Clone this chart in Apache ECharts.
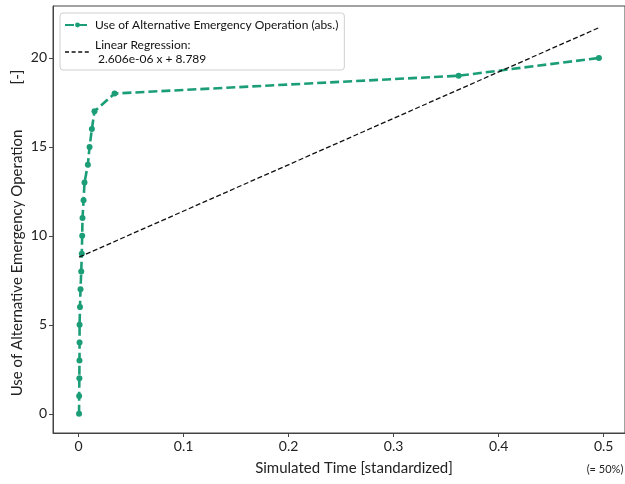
<!DOCTYPE html>
<html>
<head>
<meta charset="utf-8">
<script src="https://cdn.jsdelivr.net/npm/echarts@6/dist/echarts.min.js"></script>
<style>
  html, body { margin: 0; padding: 0; background: #fff; }
  #chart { width: 625px; height: 484px; }
</style>
</head>
<body>
<div id="chart"></div>
<script>
// Cumulative use of the alternative emergency operation over standardized simulated time
const timeStd = [0.0005, 0.0006, 0.0008, 0.0009, 0.0010, 0.0010, 0.0014, 0.0019, 0.0026, 0.0031,
                 0.0035, 0.0038, 0.0048, 0.0057, 0.0089, 0.0105, 0.0127, 0.0152, 0.0343, 0.3619, 0.4955];
const useCount = [0, 1, 2, 3, 4, 5, 6, 7, 8, 9, 10, 11, 12, 13, 14, 15, 16, 17, 18, 19, 20];

// Regression fitted on raw time (seconds); one standardized unit = 1e7 s
const regSlope = 2.606e-06;
const regIntercept = 8.789;
const timeScale = 1e7;

const xTicks = [0, 0.1, 0.2, 0.3, 0.4, 0.5];
const yTicks = [0, 5, 10, 15, 20];

const seriesName = 'Use of Alternative Emergency Operation (abs.)';
const regName = 'Linear Regression:\n 2.606e-06 x + 8.789';

const green = '#1b9e77';
const font = 'Lato, "Open Sans", sans-serif';

const obs = timeStd.map((t, i) => [t, useCount[i]]);
const tMin = Math.min(...timeStd), tMax = Math.max(...timeStd);
const regLine = [tMin, tMax].map(t => [t, regSlope * t * timeScale + regIntercept]);

const chart = echarts.init(document.getElementById('chart'), null, { renderer: 'canvas' });
chart.setOption({
  animation: false,
  backgroundColor: '#fff',
  grid: {
    left: 53, right: 0, top: 6, bottom: 51,
    show: true, borderColor: '#444', borderWidth: 1
  },
  legend: {
    orient: 'vertical',
    left: 60, top: 13,
    padding: [5, 6, 4, 4],
    itemGap: 6,
    itemWidth: 25,
    itemHeight: 6,
    backgroundColor: '#fff',
    borderColor: '#d0d0d0',
    borderWidth: 1,
    borderRadius: 3,
    textStyle: { fontFamily: font, fontSize: 12, color: '#111', lineHeight: 14 },
    data: [
      { name: seriesName },
      { name: regName, itemStyle: { opacity: 0 },
        lineStyle: { color: '#111', width: 1.3, type: [4, 2.6] } }
    ]
  },
  xAxis: {
    type: 'value',
    min: -0.0243, max: 0.5203,
    splitLine: { show: false },
    axisLine: { show: true, onZero: false, lineStyle: { color: '#444' } },
    axisTick: { show: true, length: 4, customValues: xTicks, lineStyle: { color: '#444' } },
    axisLabel: { customValues: xTicks, margin: 6, fontFamily: font, fontSize: 14, color: '#222',
                 formatter: v => String(v) }
  },
  yAxis: {
    type: 'value',
    min: -1.08, max: 22.92,
    splitLine: { show: false },
    axisLine: { show: true, onZero: false, lineStyle: { color: '#444' } },
    axisTick: { show: true, length: 4, customValues: yTicks, lineStyle: { color: '#444' } },
    axisLabel: { customValues: yTicks, margin: 6, fontFamily: font, fontSize: 14, color: '#222' }
  },
  series: [
    {
      name: seriesName,
      type: 'line',
      data: obs,
      color: green,
      symbol: 'circle',
      symbolSize: 6,
      showAllSymbol: true,
      lineStyle: { color: green, width: 2.6, type: [9, 4] },
      itemStyle: { color: green },
      z: 2
    },
    {
      name: regName,
      type: 'line',
      data: regLine,
      color: '#111',
      symbol: 'none',
      lineStyle: { color: '#111', width: 1.3, type: [5, 2.5] },
      z: 3
    }
  ],
  graphic: [
    {
      type: 'text', x: 354, y: 468,
      style: { text: 'Simulated Time [standardized]', font: '15px ' + font, fill: '#222',
               align: 'center', verticalAlign: 'middle' }
    },
    {
      type: 'text', x: 605, y: 469,
      style: { text: '(= 50%)', font: '11px ' + font, fill: '#222',
               align: 'center', verticalAlign: 'middle' }
    },
    {
      type: 'text', x: 17, y: 263, rotation: Math.PI / 2,
      style: { text: 'Use of Alternative Emergency Operation', font: '15px ' + font, fill: '#222',
               align: 'center', verticalAlign: 'middle' }
    },
    {
      type: 'text', x: 17, y: 77, rotation: Math.PI / 2,
      style: { text: '[-]', font: '15px ' + font, fill: '#222',
               align: 'center', verticalAlign: 'middle' }
    }
  ]
});
</script>
</body>
</html>
